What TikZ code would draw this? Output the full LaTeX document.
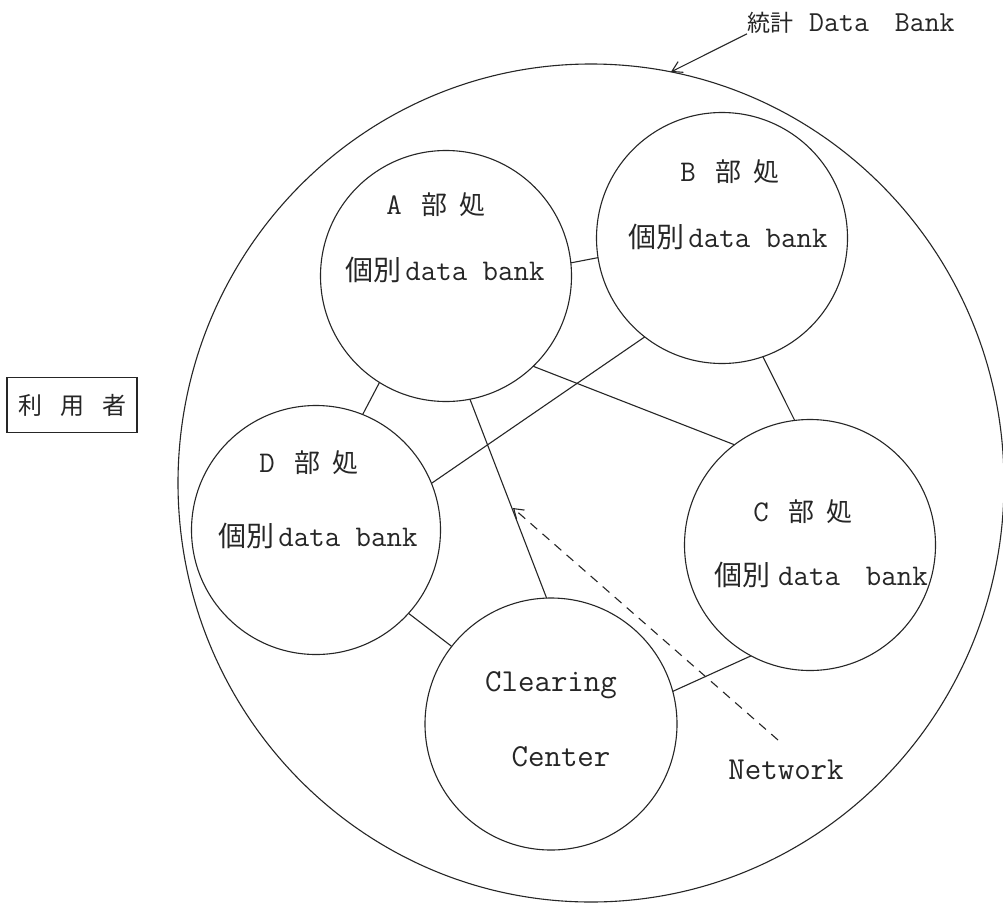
\documentclass[tikz,border=0pt]{standalone}
\usepackage{fontspec}
\newfontfamily\jpf{Noto Sans CJK JP}
\usetikzlibrary{shapes.geometric,arrows.meta}
\newcommand\J[2][27]{{\jpf\fontsize{#1}{#1}\selectfont #2}}
\tikzset{
  ln/.style={line width=1.1pt, draw=black!85},
  bub/.style={circle, ln, inner sep=0pt, outer sep=0pt},
  tw/.style={inner sep=0pt, font=\ttfamily\fontsize{30}{30}\selectfont, text=black!85},
  link/.style={ln},
  netdash/.style={ln, dash pattern=on 9pt off 7pt, -{Straight Barb[length=9pt,width=12pt]}},
  callout/.style={ln, -{Straight Barb[length=10pt,width=12pt]}},
}
\begin{document}
\begin{tikzpicture}[x=1pt,y=-1pt]
\fill[white] (0,0) rectangle (1003,905);
\useasboundingbox (0,0) rectangle (1003,905);

% outer data bank
\node[ellipse, ln, minimum width=826pt, minimum height=838pt, inner sep=0pt, outer sep=0pt] (bank) at (591,483) {};

% department circles
\node[bub, minimum size=251pt] (A) at (446,276) {};
\node[bub, minimum size=251pt] (B) at (722,238) {};
\node[bub, minimum size=251pt] (C) at (810,545) {};
\node[bub, minimum size=249pt] (D) at (316,530) {};
\node[bub, minimum size=252pt] (CC) at (551,724) {};

% labels
\node[tw] (Ah) at (436,205) {A\hspace{20pt}\J[26]{部}\hspace{12pt}\J[26]{処}};
\node[tw] (At) at (445,270) {\J[28]{個別}\hspace{4pt}data bank};
\node[tw] (Bh) at (730,172) {B\hspace{20pt}\J[26]{部}\hspace{12pt}\J[26]{処}};
\node[tw] (Bt) at (728,237) {\J[28]{個別}\hspace{4pt}data bank};
\node[tw] (Ch) at (803,512) {C\hspace{20pt}\J[26]{部}\hspace{12pt}\J[26]{処}};
\node[tw] (Ct) at (821,575) {\J[28]{個別}\hspace{8pt}data\hspace{26pt}bank};
\node[tw] (Dh) at (309,463) {D\hspace{20pt}\J[26]{部}\hspace{12pt}\J[26]{処}};
\node[tw] (Dt) at (318,536) {\J[28]{個別}\hspace{4pt}data bank};
\node[tw, font=\ttfamily\fontsize{32}{32}\selectfont] (CCa) at (551,685) {Clearing};
\node[tw, font=\ttfamily\fontsize{32}{32}\selectfont] (CCb) at (561,757) {Center};
\node[tw, font=\ttfamily\fontsize{32}{32}\selectfont] (N) at (786,770) {Network};

% title
\node[tw, font=\ttfamily\fontsize{29}{29}\selectfont, anchor=west] (T) at (747,23)
  {\J[23]{統計}\hspace{16pt}Data\hspace{26pt}Bank};
\draw[callout] (T.south west) -- (bank.79.6);

% user box
\node[ln, minimum width=130pt, minimum height=55pt, inner sep=0pt, text=black!85] (U) at (72,405)
  {\J[24]{利}\hspace{18pt}\J[24]{用}\hspace{18pt}\J[24]{者}};

% links
\draw[link] (A.6.5) -- (B.-171.4);
\draw[link] (A.-122.4) -- (D.68.3);
\draw[link] (A.-79) -- (CC.92.3);
\draw[link] (A.-46.6) -- (C.127.4);
\draw[link] (B.-128.4) -- (D.22.8);
\draw[link] (B.-71.8) -- (C.97.5);
\draw[link] (C.-118) -- (CC.15);
\draw[link] (D.-42.1) -- (CC.142.2);

% network arrow
\coordinate (nt) at (778,740);
\coordinate (nh) at (513,508);
\draw[netdash] (nt) -- (nh);
\end{tikzpicture}
\end{document}
